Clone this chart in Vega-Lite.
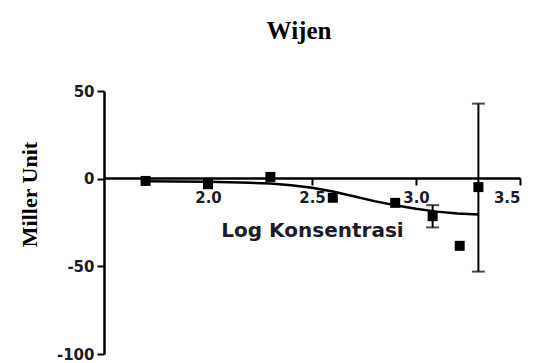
{
  "$schema": "https://vega.github.io/schema/vega-lite/v6.json",
  "autosize": "none",
  "padding": {"left": 104, "top": 91, "right": 15, "bottom": 9},
  "width": 416,
  "height": 263,
  "background": "white",
  "config": {"view": {"stroke": null}},
  "title": {
    "text": "Wijen",
    "font": "Liberation Serif",
    "fontSize": 25,
    "fontWeight": "bold",
    "color": "#000",
    "anchor": "middle",
    "frame": "group",
    "baseline": "alphabetic",
    "offset": 20,
    "dx": -13
  },
  "datasets": {
    "pts": [
      {"x": 1.70, "y": -1.3},
      {"x": 2.00, "y": -3.2},
      {"x": 2.30, "y": 1.0},
      {"x": 2.60, "y": -10.9},
      {"x": 2.90, "y": -13.8},
      {"x": 3.08, "y": -21.4, "lo": -27.8, "hi": -15.1},
      {"x": 3.21, "y": -38.3},
      {"x": 3.30, "y": -4.8, "lo": -53.0, "hi": 42.8}
    ],
    "fit": [
      {"x": 1.70, "y": -1.5},
      {"x": 2.00, "y": -1.8},
      {"x": 2.20, "y": -2.3},
      {"x": 2.30, "y": -2.8},
      {"x": 2.40, "y": -3.8},
      {"x": 2.50, "y": -5.2},
      {"x": 2.60, "y": -7.3},
      {"x": 2.70, "y": -10.0},
      {"x": 2.80, "y": -12.8},
      {"x": 2.90, "y": -15.2},
      {"x": 3.00, "y": -17.2},
      {"x": 3.10, "y": -18.8},
      {"x": 3.20, "y": -19.8},
      {"x": 3.30, "y": -20.4}
    ]
  },
  "layer": [
    {
      "data": {"name": "fit"},
      "mark": {"type": "line", "color": "#000", "strokeWidth": 2.5},
      "encoding": {
        "x": {
          "field": "x", "type": "quantitative",
          "scale": {"domain": [1.5, 3.5], "nice": false, "zero": false},
          "axis": {
            "title": "Log Konsentrasi",
            "values": [2.0, 2.5, 3.0, 3.5],
            "format": ".1f",
            "offset": -176,
            "domainColor": "#000", "domainWidth": 2.5,
            "tickColor": "#000", "tickWidth": 2, "tickSize": 7,
            "labelFont": "DejaVu Sans", "labelFontWeight": "bold", "labelFontSize": 15,
            "labelColor": "#1c1c28", "labelPadding": 5,
            "titleFont": "DejaVu Sans", "titleFontWeight": "bold", "titleFontSize": 20,
            "titleColor": "#1c1c28",
            "titleBaseline": "alphabetic", "titleY": 58,
            "grid": false
          }
        },
        "y": {
          "field": "y", "type": "quantitative",
          "scale": {"domain": [-100, 50], "nice": false, "zero": false},
          "axis": {
            "title": "Miller Unit",
            "values": [-100, -50, 0, 50],
            "labelExpr": "toString(datum.value)",
            "domainColor": "#000", "domainWidth": 2.5,
            "tickColor": "#000", "tickWidth": 2, "tickSize": 7,
            "labelFont": "DejaVu Sans", "labelFontWeight": "bold", "labelFontSize": 15,
            "labelColor": "#1c1c28", "labelPadding": 3,
            "titleFont": "Liberation Serif", "titleFontWeight": "bold", "titleFontSize": 22,
            "titleColor": "#000",
            "titleAngle": -90, "titleAlign": "center", "titleBaseline": "alphabetic",
            "titleX": -68, "titleY": 103,
            "grid": false
          }
        }
      }
    },
    {
      "data": {"name": "pts"},
      "mark": {"type": "rule", "color": "#000", "strokeWidth": 2},
      "encoding": {
        "x": {"field": "x", "type": "quantitative"},
        "y": {"field": "lo", "type": "quantitative"},
        "y2": {"field": "hi"}
      }
    },
    {
      "data": {"name": "pts"},
      "transform": [{"filter": "isValid(datum.lo)"}],
      "mark": {"type": "tick", "color": "#000", "orient": "horizontal", "size": 13, "thickness": 2},
      "encoding": {
        "x": {"field": "x", "type": "quantitative"},
        "y": {"field": "lo", "type": "quantitative"}
      }
    },
    {
      "data": {"name": "pts"},
      "transform": [{"filter": "isValid(datum.hi)"}],
      "mark": {"type": "tick", "color": "#000", "orient": "horizontal", "size": 13, "thickness": 2},
      "encoding": {
        "x": {"field": "x", "type": "quantitative"},
        "y": {"field": "hi", "type": "quantitative"}
      }
    },
    {
      "data": {"name": "pts"},
      "mark": {"type": "point", "shape": "square", "filled": true, "color": "#000", "opacity": 1, "size": 100},
      "encoding": {
        "x": {"field": "x", "type": "quantitative"},
        "y": {"field": "y", "type": "quantitative"}
      }
    }
  ]
}
